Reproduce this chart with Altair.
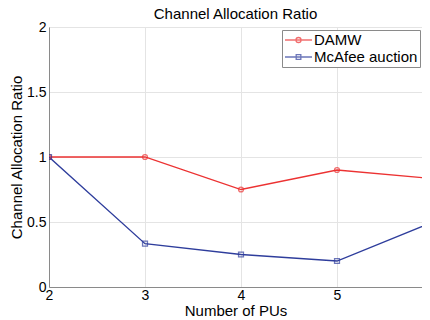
import altair as alt
import pandas as pd

pus = [2, 3, 4, 5, 6]
damw = [1.0, 1.0, 0.75, 0.9, 0.8333]
mcafee = [1.0, 0.3333, 0.25, 0.2, 0.5]
series_names = ["DAMW", "McAfee auction"]
colors = ["#ec3232", "#2e3d9c"]
shapes = ["circle", "square"]
legend_shapes = [
    "M-1,0H2.857M0.57,0A0.36,0.36,0,1,1,1.29,0A0.36,0.36,0,1,1,0.57,0",
    "M-1,0H2.857M0.6,-0.33H1.26V0.33H0.6Z",
]

rows = []
for x, a, b in zip(pus, damw, mcafee):
    rows.append({"pus": x, "ratio": a, "series": series_names[0]})
    rows.append({"pus": x, "ratio": b, "series": series_names[1]})
df = pd.DataFrame(rows)

FONT = "Liberation Sans"
PLOT_W = 373
XMAX = 2 + PLOT_W / 96.0
GRID = "#e4e4e4"
FRAME = "#8a8a8a"

xscale = alt.Scale(domain=[2, XMAX], nice=False)
yscale = alt.Scale(domain=[0, 2], nice=False)
cscale = alt.Scale(domain=series_names, range=colors)

x_axis = alt.Axis(orient="bottom", values=pus, format="d", title="Number of PUs",
                  grid=True, gridColor=GRID, tickSize=0, labelPadding=1,
                  titlePadding=1, labelFlush=False)
y_axis = alt.Axis(orient="left", values=[0, 0.5, 1, 1.5, 2], format="~g",
                  title="Channel Allocation Ratio",
                  grid=True, gridColor=GRID, tickSize=0, labelPadding=3,
                  titlePadding=2, labelFlush=False)

xs = alt.X("pus:Q", scale=xscale, axis=x_axis)
ys = alt.Y("ratio:Q", scale=yscale, axis=y_axis)

lines = alt.Chart(df).mark_line(strokeWidth=1.3, clip=True).encode(
    x=xs, y=ys, color=alt.Color("series:N", scale=cscale, legend=None))

pts = alt.Chart(df).mark_point(size=24, filled=False, strokeWidth=1.3, clip=True).encode(
    x=xs,
    y=ys,
    color=alt.Color("series:N", scale=cscale, legend=None),
    shape=alt.Shape("series:N", scale=alt.Scale(domain=series_names, range=shapes), legend=None))

leg = alt.Chart(df).transform_filter("false").mark_point(filled=False).encode(
    x=xs,
    y=ys,
    color=alt.Color("series:N", scale=cscale, legend=alt.Legend(title=None)),
    shape=alt.Shape("series:N", scale=alt.Scale(domain=series_names, range=legend_shapes),
                    legend=alt.Legend(title=None)))

chart = alt.layer(lines, pts, leg).resolve_scale(
    color="independent", shape="independent"
).properties(
    width=PLOT_W, height=260,
    title=alt.Title("Channel Allocation Ratio", font=FONT, fontSize=15, fontWeight="normal",
                    offset=-2, color="black", frame="group", anchor="middle"),
    autosize=alt.AutoSizeParams(type="none"),
    padding={"left": 41, "top": 19, "right": 0, "bottom": 33},
).configure_axis(
    labelFont=FONT, titleFont=FONT, labelFontSize=14, titleFontSize=15,
    titleFontWeight="normal", labelColor="black", titleColor="black",
    domainColor=FRAME,
).configure_legend(
    orient="none", legendX=233, legendY=3,
    strokeColor=FRAME, fillColor="white", padding=2,
    labelFontSize=15, labelFont=FONT, labelColor="black",
    symbolSize=196, symbolStrokeWidth=1.3, symbolFillColor="transparent",
    rowPadding=1, labelOffset=14, labelLimit=200, cornerRadius=0,
).configure_view(stroke=FRAME, strokeDash=[PLOT_W, 3000])

chart.save("out.html", embed_options={"renderer": "svg", "actions": False})
